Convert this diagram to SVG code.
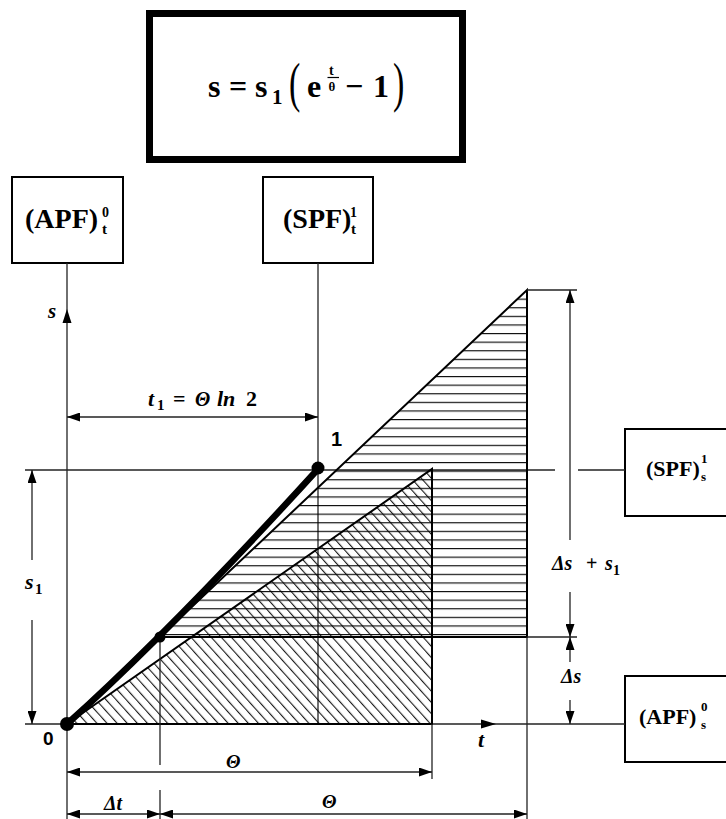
<svg xmlns="http://www.w3.org/2000/svg" width="726" height="819" viewBox="0 0 726 819">
<style>
  .box{fill:#fff;stroke:#000;stroke-width:2}
  .thin{stroke:#222;stroke-width:1.3;fill:none}
  .dim{stroke:#222;stroke-width:1.3;fill:none;marker-start:url(#ar);marker-end:url(#ar)}
  .dimS{stroke:#222;stroke-width:1.3;fill:none;marker-start:url(#ar)}
  .dimE{stroke:#222;stroke-width:1.3;fill:none;marker-end:url(#ar)}
  .tri{stroke:#000;stroke-width:2;stroke-linejoin:miter}
  .ser{font-family:"Liberation Serif","Times New Roman",serif;font-weight:bold;fill:#000}
  .par{font-family:"Liberation Serif","Times New Roman",serif;font-weight:normal;fill:#000}
  .it{font-family:"Liberation Serif","Times New Roman",serif;font-weight:bold;font-style:italic;fill:#000}
  .sans{font-family:"Liberation Sans",Arial,sans-serif;font-weight:bold;fill:#000}
</style>
<defs>
  <marker id="ar" markerUnits="userSpaceOnUse" markerWidth="14" markerHeight="9" refX="13" refY="4.5" orient="auto-start-reverse">
    <path d="M0,0 L13,4.5 L0,9 z" fill="#000"/>
  </marker>
  <pattern id="hh" patternUnits="userSpaceOnUse" x="0" y="290" width="10" height="8.6">
    <line x1="0" y1="0.6" x2="10" y2="0.6" stroke="#000" stroke-width="1.1"/>
  </pattern>
  <pattern id="hd" patternUnits="userSpaceOnUse" width="7.5" height="10" patternTransform="rotate(-42)">
    <line x1="0.6" y1="0" x2="0.6" y2="10" stroke="#000" stroke-width="1"/>
  </pattern>
</defs>
<rect width="726" height="819" fill="#fff"/>

<g id="formula">
  <rect x="149.5" y="13.5" width="313" height="146" fill="#fff" stroke="#000" stroke-width="7"/>
  <text class="ser" x="208" y="97" font-size="32">s</text>
  <text class="ser" x="229" y="97" font-size="32">=</text>
  <text class="ser" x="255" y="97" font-size="32">s</text>
  <text class="ser" x="272" y="104" font-size="21">1</text>
  <text class="par" transform="translate(289,101) scale(1,1.6)" font-size="34">(</text>
  <text class="ser" x="307" y="97" font-size="32">e</text>
  <text class="ser" x="329" y="75" font-size="14">t</text>
  <line x1="327.5" y1="77.5" x2="339" y2="77.5" stroke="#000" stroke-width="1.2"/>
  <text class="ser" x="328.5" y="91" font-size="13">θ</text>
  <text class="ser" x="345" y="97" font-size="32">−</text>
  <text class="ser" x="373" y="97" font-size="32">1</text>
  <text class="par" transform="translate(393,101) scale(1,1.6)" font-size="34">)</text>
</g>

<g id="apf-t">
  <rect class="box" x="12" y="177" width="111" height="86"/>
  <text class="ser" x="25" y="228" font-size="28">(APF)</text>
  <text class="ser" x="102" y="217" font-size="14">0</text>
  <text class="ser" x="102" y="234" font-size="15">t</text>
</g>

<g id="spf-t">
  <rect class="box" x="263" y="177" width="110" height="86"/>
  <text class="ser" x="283" y="228" font-size="28">(SPF)</text>
  <text class="ser" x="350" y="217" font-size="14">1</text>
  <text class="ser" x="351" y="234" font-size="15">t</text>
</g>

<g id="spf-s">
  <rect class="box" x="625" y="429" width="110" height="87"/>
  <text class="ser" x="646" y="476" font-size="22">(SPF)</text>
  <text class="ser" x="701" y="463" font-size="13">1</text>
  <text class="ser" x="701" y="481" font-size="13">s</text>
</g>

<g id="apf-s">
  <rect class="box" x="625" y="676" width="110" height="86"/>
  <text class="ser" x="639" y="724" font-size="22">(APF)</text>
  <text class="ser" x="701" y="711" font-size="13">0</text>
  <text class="ser" x="701" y="729" font-size="13">s</text>
</g>

<g id="connectors">
  <line class="thin" x1="67" y1="263" x2="67" y2="819"/>
  <polygon points="67,309 62.5,323 71.5,323" fill="#000"/>
  <line class="thin" x1="318" y1="263" x2="318" y2="724"/>
  <line class="thin" x1="25" y1="470" x2="555" y2="470"/>
  <line class="thin" x1="578" y1="470" x2="625" y2="470"/>
  <line class="thin" x1="25" y1="724" x2="625" y2="724"/>
  <polygon points="496,724 481,719.5 481,728.5" fill="#000"/>
</g>

<g id="chart">
  <polygon points="160,637 527,290 527,637" fill="url(#hh)"/>
  <polygon points="67,724 432,469 432,724" fill="url(#hd)"/>
  <polygon class="tri" points="160,637 527,290 527,637" fill="none"/>
  <polygon class="tri" points="67,724 432,469 432,724" fill="none"/>

  <line class="thin" x1="527" y1="290" x2="577" y2="290"/>
  <line class="thin" x1="527" y1="637" x2="577" y2="637"/>
  <line class="thin" x1="160" y1="637" x2="160" y2="765"/>
  <line class="thin" x1="160" y1="790" x2="160" y2="819"/>
  <line class="thin" x1="432" y1="724" x2="432" y2="779"/>
  <line class="thin" x1="527" y1="637" x2="527" y2="819"/>

  <path d="M67,724 Q172.5,629 318,469" fill="none" stroke="#000" stroke-width="6.5" stroke-linecap="round"/>
  <circle cx="67" cy="724" r="7" fill="#000"/>
  <circle cx="160" cy="637" r="5.5" fill="#000"/>
  <circle cx="318" cy="468" r="6.5" fill="#000"/>

  <line class="dim" x1="67" y1="417" x2="318" y2="417"/>
  <line class="dimS" x1="32" y1="470" x2="32" y2="560"/>
  <line class="dimE" x1="32" y1="620" x2="32" y2="724"/>
  <line class="dimS" x1="570" y1="290" x2="570" y2="540"/>
  <line class="dimE" x1="570" y1="592" x2="570" y2="637"/>
  <line class="dimS" x1="570" y1="637" x2="570" y2="662"/>
  <line class="dimE" x1="570" y1="700" x2="570" y2="724"/>
  <line class="dim" x1="67" y1="772" x2="432" y2="772"/>
  <line class="dim" x1="67" y1="814" x2="160" y2="814"/>
  <line class="dim" x1="160" y1="814" x2="527" y2="814"/>

  <text class="it" x="48" y="318" font-size="21">s</text>
  <text class="it" x="148" y="406" font-size="22">t</text>
  <text class="ser" x="157" y="410" font-size="15">1</text>
  <text class="ser" x="173" y="406" font-size="22">=</text>
  <text class="it" x="195" y="406" font-size="20">Θ</text>
  <text class="it" x="217" y="406" font-size="22">ln</text>
  <text class="ser" x="246" y="406" font-size="22">2</text>
  <text class="sans" x="331" y="446" font-size="20">1</text>
  <text class="sans" x="43" y="745" font-size="19">0</text>
  <text class="it" x="478" y="747" font-size="22">t</text>
  <text class="it" x="25" y="589" font-size="22">s</text>
  <text class="ser" x="35" y="594" font-size="15">1</text>
  <text class="it" x="552" y="570" font-size="20">Δs</text>
  <text class="ser" x="586" y="570" font-size="20">+</text>
  <text class="it" x="605" y="570" font-size="20">s</text>
  <text class="ser" x="613" y="575" font-size="14">1</text>
  <text class="it" x="561" y="683" font-size="20">Δs</text>
  <text class="it" x="226" y="768" font-size="19">Θ</text>
  <text class="it" x="104" y="810" font-size="20">Δt</text>
  <text class="it" x="322" y="808" font-size="19">Θ</text>
</g>
</svg>
